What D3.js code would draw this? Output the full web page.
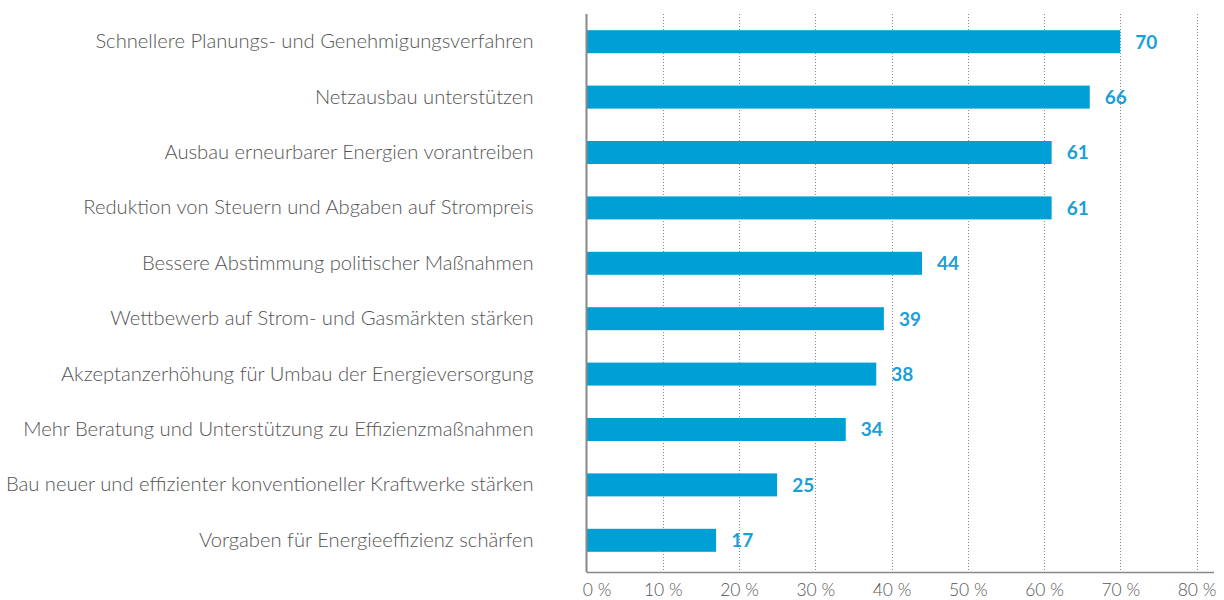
<!DOCTYPE html>
<html>
<head>
<meta charset="utf-8">
<script src="https://cdn.jsdelivr.net/npm/d3@7"></script>
<style>
  body { margin: 0; background: #fff; }
  svg text { font-family: "Lato", "Open Sans", sans-serif; }
</style>
</head>
<body>
<svg id="chart"></svg>
<script>
// categories, top to bottom
let categories = [
    "Schnellere Planungs- und Genehmigungsverfahren",
    "Netzausbau unterstützen",
    "Ausbau erneurbarer Energien vorantreiben",
    "Reduktion von Steuern und Abgaben auf Strompreis",
    "Bessere Abstimmung politischer Maßnahmen",
    "Wettbewerb auf Strom- und Gasmärkten stärken",
    "Akzeptanzerhöhung für Umbau der Energieversorgung",
    "Mehr Beratung und Unterstützung zu Effizienzmaßnahmen",
    "Bau neuer und effizienter konventioneller Kraftwerke stärken",
    "Vorgaben für Energieeffizienz schärfen"
];
let values = [70, 66, 61, 61, 44, 39, 38, 34, 25, 17];
let ticks = [0, 10, 20, 30, 40, 50, 60, 70, 80];

let w = 1224;
let h = 600;

let svg = d3.select('#chart')
    .attr('width', w)
    .attr('height', h);

let x0 = 586.5, x1 = 1196.5;
let yTop = 14, yBottom = 572;

let xScale = d3.scaleLinear()
    .domain([0, 80])
    .range([x0, x1]);

let yScale = d3.scaleBand()
    .domain(categories)
    .range([yTop, 568])
    .paddingInner(0.585)
    .paddingOuter(0.2925);

// dotted grid lines
svg.append('g')
    .selectAll('line')
    .data(ticks.slice(1))
    .enter()
    .append('line')
    .attr('x1', d => Math.round(xScale(d)) + 0.5)
    .attr('x2', d => Math.round(xScale(d)) + 0.5)
    .attr('y1', yTop)
    .attr('y2', yBottom)
    .attr('stroke', '#8a8a8a')
    .attr('stroke-width', 1)
    .attr('stroke-dasharray', '1,2');

// bars
svg.append('g')
    .selectAll('rect')
    .data(values)
    .enter()
    .append('rect')
    .attr('x', x0)
    .attr('y', (d, i) => yScale(categories[i]))
    .attr('width', d => xScale(d) - x0)
    .attr('height', yScale.bandwidth())
    .attr('fill', '#009fd6');

// value labels
svg.append('g')
    .selectAll('text')
    .data(values)
    .enter()
    .append('text')
    .attr('x', d => xScale(d) + 15)
    .attr('y', (d, i) => yScale(categories[i]) + yScale.bandwidth() / 2)
    .attr('dy', '0.36em')
    .attr('font-size', '19px')
    .attr('font-weight', 'bold')
    .attr('fill', '#1a9fd8')
    .text(d => d);

// category labels
let yAxis = d3.axisLeft(yScale).tickSize(0).tickPadding(53);
svg.append('g')
    .attr('transform', `translate(${x0},0)`)
    .call(yAxis)
    .call(g => g.select('.domain').remove())
    .selectAll('text')
    .attr('font-family', '"Lato", "Open Sans", sans-serif')
    .attr('font-size', '20.2px')
    .attr('font-weight', 300)
    .attr('fill', '#555');

// bottom axis
let xAxis = d3.axisBottom(xScale)
    .tickValues(ticks)
    .tickSize(0)
    .tickPadding(12)
    .tickFormat(d => d + ' %');
svg.append('g')
    .attr('transform', `translate(0,${yBottom})`)
    .call(xAxis)
    .call(g => g.select('.domain').remove())
    .selectAll('text')
    .attr('dx', d => d === 0 ? 10 : 0)
    .attr('font-family', '"Lato", "Open Sans", sans-serif')
    .attr('font-size', '17.5px')
    .attr('font-weight', 300)
    .attr('fill', '#555');

svg.append('line')
    .attr('x1', x0)
    .attr('x2', 1214)
    .attr('y1', yBottom + 0.5)
    .attr('y2', yBottom + 0.5)
    .attr('stroke', '#888')
    .attr('stroke-width', 1.5);

svg.append('line')
    .attr('x1', x0)
    .attr('x2', x0)
    .attr('y1', yTop)
    .attr('y2', yBottom)
    .attr('stroke', '#888')
    .attr('stroke-width', 2);
</script>
</body>
</html>
